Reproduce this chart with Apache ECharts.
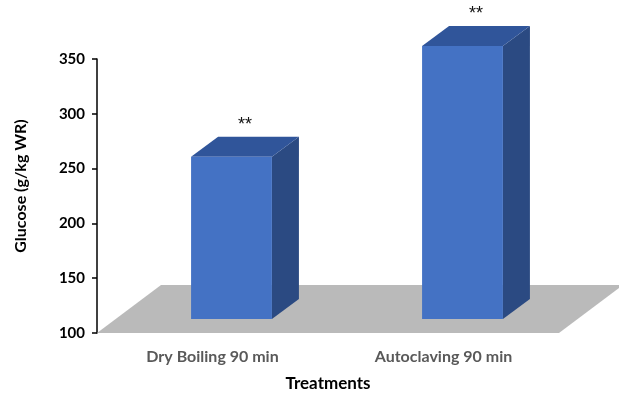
<!DOCTYPE html>
<html>
<head>
<meta charset="utf-8">
<script src="https://cdn.jsdelivr.net/npm/echarts@6/dist/echarts.min.js"></script>
<style>
  html, body { margin: 0; padding: 0; background: #fff; }
  #chart { width: 619px; height: 394px; }
</style>
</head>
<body>
<div id="chart"></div>
<script>
// Glucose content by treatment
const categories = ['Dry Boiling 90 min', 'Autoclaving 90 min'];
const glucose = [248, 349];
const significance = ['**', '**'];
const yTicks = { min: 100, max: 350, interval: 50 };

// pseudo-3D geometry (pixels)
const FLOOR_DX = 64, FLOOR_DY = -48;   // depth of the grey floor
const FRONT_DX = 19, FRONT_DY = -14;   // bar front plane inside the floor
const BAR_DX = 27, BAR_DY = -20;       // bar depth
const BAR_RATIO = 0.35;

const FONT = 'Lato, "Open Sans", "Liberation Sans", sans-serif';

function renderFloor(params, api) {
  const cs = params.coordSys;
  const bottom = cs.y + cs.height;
  return {
    type: 'polygon',
    shape: {
      points: [
        [cs.x, bottom],
        [cs.x + cs.width, bottom],
        [cs.x + cs.width + FLOOR_DX, bottom + FLOOR_DY],
        [cs.x + FLOOR_DX, bottom + FLOOR_DY]
      ]
    },
    style: { fill: '#bababa' }
  };
}

function renderBar(params, api) {
  const idx = api.value(0);
  const val = api.value(1);
  const base = api.coord([idx, yTicks.min]);
  const top = api.coord([idx, val]);
  const bw = api.size([1, 0])[0] * BAR_RATIO;
  const x0 = base[0] + FRONT_DX - bw / 2;
  const x1 = x0 + bw;
  const yb = base[1] + FRONT_DY;
  const yt = top[1] + FRONT_DY;
  return {
    type: 'group',
    children: [
      {
        type: 'polygon',
        shape: { points: [[x1, yt], [x1 + BAR_DX, yt + BAR_DY], [x1 + BAR_DX, yb + BAR_DY], [x1, yb]] },
        style: { fill: '#2b4a82' }
      },
      {
        type: 'polygon',
        shape: { points: [[x0, yt], [x0 + BAR_DX, yt + BAR_DY], [x1 + BAR_DX, yt + BAR_DY], [x1, yt]] },
        style: { fill: '#30559a' }
      },
      {
        type: 'rect',
        shape: { x: x0, y: yt, width: bw, height: yb - yt },
        style: { fill: '#4472c4' }
      },
      {
        type: 'text',
        style: {
          text: significance[idx],
          x: (x0 + x1 + BAR_DX) / 2,
          y: yt + BAR_DY - 12,
          align: 'center',
          verticalAlign: 'middle',
          fill: '#111',
          font: '18px "Liberation Sans", Arial, sans-serif'
        }
      }
    ]
  };
}

const chart = echarts.init(document.getElementById('chart'), null, { renderer: 'canvas' });
chart.setOption({
  animation: false,
  backgroundColor: '#ffffff',
  grid: { left: 97, right: 60, top: 59, bottom: 61, containLabel: false, outerBoundsMode: 'none' },
  xAxis: {
    type: 'category',
    data: categories,
    axisLine: { show: false },
    axisTick: { show: false },
    axisLabel: { color: '#595959', fontWeight: 'bold', fontSize: 16, fontFamily: FONT, margin: 16 },
    name: 'Treatments',
    nameLocation: 'middle',
    nameGap: 42,
    nameTextStyle: { color: '#000', fontWeight: 'bold', fontSize: 17, fontFamily: FONT }
  },
  yAxis: {
    type: 'value',
    min: yTicks.min,
    max: yTicks.max,
    interval: yTicks.interval,
    axisLine: { show: true, lineStyle: { color: '#000', width: 1.5 } },
    axisTick: { show: true, length: 5, lineStyle: { color: '#000', width: 1.5 } },
    splitLine: { show: false },
    axisLabel: { color: '#000', fontWeight: 'bold', fontSize: 15, fontFamily: FONT, margin: 12 },
    name: 'Glucose (g/kg WR)',
    nameLocation: 'middle',
    nameGap: 68,
    nameRotate: 90,
    nameTextStyle: { color: '#000', fontWeight: 'bold', fontSize: 16, fontFamily: FONT, padding: [0, 0, 0, 20] }
  },
  series: [
    {
      type: 'custom',
      renderItem: renderFloor,
      data: [[0, yTicks.min]],
      z: 1,
      silent: true
    },
    {
      type: 'custom',
      renderItem: renderBar,
      data: glucose.map((v, i) => [i, v]),
      z: 2
    }
  ]
});
</script>
</body>
</html>
